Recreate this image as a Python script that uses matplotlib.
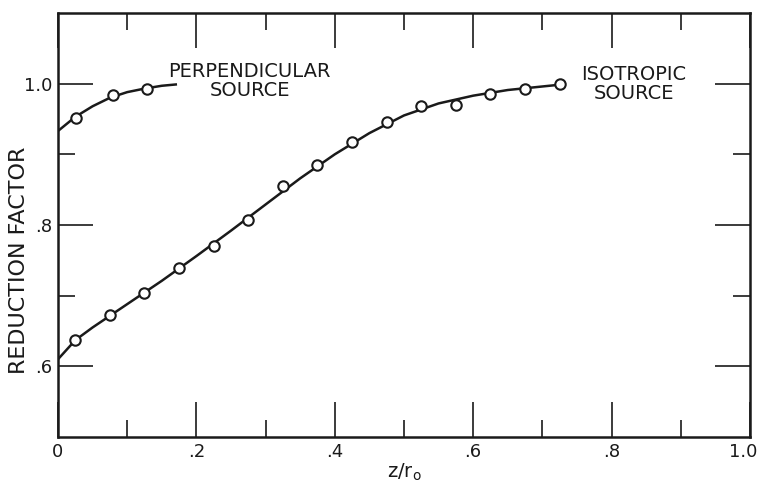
import numpy as np
import matplotlib.pyplot as plt
import matplotlib.transforms as mtransforms
from matplotlib.ticker import FixedLocator

# measured points (open circles)
perp_x = [0.026, 0.079, 0.129]
perp_y = [0.952, 0.984, 0.993]

iso_x = [0.025, 0.075, 0.125, 0.175, 0.225, 0.275, 0.325, 0.375,
         0.425, 0.475, 0.525, 0.575, 0.625, 0.675, 0.725]
iso_y = [0.637, 0.672, 0.704, 0.739, 0.770, 0.807, 0.855, 0.885,
         0.918, 0.946, 0.969, 0.970, 0.986, 0.993, 0.999]

# smooth curves
perp_cx = [0.0, 0.025, 0.05, 0.075, 0.1, 0.125, 0.15, 0.172]
perp_cy = [0.933, 0.953, 0.968, 0.980, 0.988, 0.993, 0.997, 0.999]

iso_cx = [0.0, 0.025, 0.05, 0.1, 0.15, 0.2, 0.25, 0.3, 0.35, 0.4,
          0.45, 0.5, 0.55, 0.6, 0.65, 0.7, 0.73]
iso_cy = [0.610, 0.637, 0.655, 0.688, 0.721, 0.756, 0.792, 0.829, 0.866, 0.900,
          0.930, 0.955, 0.972, 0.983, 0.991, 0.996, 0.999]

xticks = [0, 0.2, 0.4, 0.6, 0.8, 1.0]
xlabels = ['0', '.2', '.4', '.6', '.8', '1.0']
yticks = [0.6, 0.8, 1.0]
ylabels = ['.6', '.8', '1.0']

ink = '#1a1a1a'

fig = plt.figure(figsize=(7.61, 4.88), dpi=100)
ax = fig.add_axes([0.0762, 0.1045, 0.9093, 0.8689])

ax.plot(perp_cx, perp_cy, color=ink, lw=1.8, solid_capstyle='butt')
ax.plot(iso_cx, iso_cy, color=ink, lw=1.8, solid_capstyle='butt')
ax.plot(perp_x, perp_y, 'o', ms=7.5, mfc='white', mec=ink, mew=1.5)
ax.plot(iso_x, iso_y, 'o', ms=7.5, mfc='white', mec=ink, mew=1.5)

ax.set_xlim(0, 1.0)
ax.set_ylim(0.5, 1.1)

ax.xaxis.set_major_locator(FixedLocator(xticks))
ax.xaxis.set_minor_locator(FixedLocator([0.1, 0.3, 0.5, 0.7, 0.9]))
ax.yaxis.set_major_locator(FixedLocator(yticks))
ax.yaxis.set_minor_locator(FixedLocator([0.7, 0.9]))
ax.set_xticklabels(xlabels)
ax.set_yticklabels(ylabels)

ax.tick_params(which='both', direction='in', top=True, right=True,
               color=ink, labelcolor=ink, labelsize=13, width=1.2)
ax.tick_params(which='major', length=25, pad=4)
ax.tick_params(which='minor', length=12.5)
for s in ax.spines.values():
    s.set_linewidth(1.8)
    s.set_color(ink)

# last x label sits against the figure edge, nudge it left
last = ax.get_xticklabels()[-1]
last.set_transform(last.get_transform() +
                   mtransforms.ScaledTranslation(-7 / 100, 0, fig.dpi_scale_trans))

ax.set_ylabel('REDUCTION FACTOR', fontsize=16, color=ink)
ax.yaxis.set_label_coords(-0.042, 0.417)
ax.set_xlabel('z/r$_\\mathregular{o}$', fontsize=14, color=ink, labelpad=1)

ax.text(0.277, 1.004, 'PERPENDICULAR\nSOURCE', ha='center', va='center',
        fontsize=14, color=ink, linespacing=1.0)
ax.text(0.832, 1.0, 'ISOTROPIC\nSOURCE', ha='center', va='center',
        fontsize=14, color=ink, linespacing=1.0)

fig.savefig('out.png', dpi=100)
